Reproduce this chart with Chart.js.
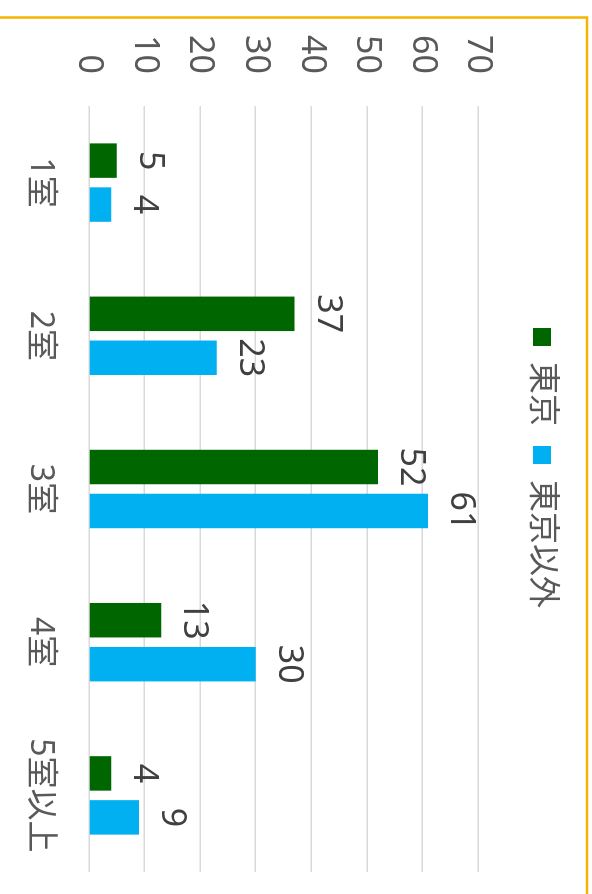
<!DOCTYPE html>
<html>
<head>
<meta charset="utf-8">
<script src="https://cdn.jsdelivr.net/npm/chart.js@4/dist/chart.umd.min.js"></script>
<style>
  html, body { margin: 0; padding: 0; background: #fff; }
  body { width: 592px; height: 894px; overflow: hidden; position: relative; }
  /* chart is drawn landscape and turned a quarter clockwise */
  #wrap {
    position: absolute; left: 0; top: 0;
    width: 894px; height: 592px;
    transform-origin: 0 0;
    transform: translateX(592px) rotate(90deg);
  }
</style>
</head>
<body>
<div id="wrap"><canvas id="myChart" width="894" height="592"></canvas></div>
<script>
const categories = ["1室", "2室", "3室", "4室", "5室以上"];
const seriesNames = ["東京", "東京以外"];
const tokyo = [5, 37, 52, 13, 4];
const outsideTokyo = [4, 23, 61, 30, 9];
const valueTicks = [0, 10, 20, 30, 40, 50, 60, 70];

const FONT = "'Noto Sans', 'Noto Sans CJK JP', sans-serif";

// white page + the orange frame of the original sheet
const framePlugin = {
    id: 'frame',
    beforeDraw(chart) {
        const ctx = chart.ctx;
        ctx.save();
        ctx.fillStyle = '#ffffff';
        ctx.fillRect(0, 0, chart.width, chart.height);
        ctx.strokeStyle = '#F4B400';
        ctx.lineWidth = 2.5;
        ctx.strokeRect(17.5, 5, 2000, 2000);
        ctx.restore();
    }
};

// value labels above each bar
const valueLabels = {
    id: 'valueLabels',
    afterDatasetsDraw(chart) {
        const ctx = chart.ctx;
        ctx.save();
        ctx.font = "34px " + FONT;
        ctx.fillStyle = '#404040';
        ctx.textAlign = 'center';
        ctx.textBaseline = 'alphabetic';
        chart.data.datasets.forEach((ds, i) => {
            chart.getDatasetMeta(i).data.forEach((bar, j) => {
                ctx.fillText(String(ds.data[j]), bar.x, bar.y - 23);
            });
        });
        ctx.restore();
    }
};

// keep the legend band tall enough so the plot starts where the original does,
// and let the value axis labels use the room left of the axis box
const layoutTweaks = {
    id: 'layoutTweaks',
    afterInit(chart) {
        const lg = chart.legend;
        if (!lg) return;
        const fit = lg.fit.bind(lg);
        lg.fit = function () { fit(); this.height = 100; };
    },
    afterLayout(chart) {
        chart.scales.y.left = 0;
    }
};

var ctx = document.getElementById('myChart').getContext('2d');
var myChart = new Chart(ctx, {
    type: 'bar',
    data: {
        labels: categories,
        datasets: [{
            label: seriesNames[0],
            data: tokyo,
            backgroundColor: '#006600'
        }, {
            label: seriesNames[1],
            data: outsideTokyo,
            backgroundColor: '#00B0F0'
        }]
    },
    options: {
        responsive: false,
        devicePixelRatio: 1,
        animation: false,
        layout: { padding: { left: 64, right: 22, top: 14, bottom: 0 } },
        datasets: {
            bar: { categoryPercentage: 0.574, barPercentage: 0.784 }
        },
        plugins: {
            legend: {
                position: 'top',
                labels: {
                    boxWidth: 18,
                    boxHeight: 18,
                    padding: 20,
                    color: '#595959',
                    font: { family: FONT, size: 32 }
                }
            },
            tooltip: { enabled: false }
        },
        scales: {
            x: {
                grid: { display: false },
                border: { display: false },
                ticks: {
                    color: '#595959',
                    padding: 22,
                    font: { family: FONT, size: 32 }
                },
                afterFit(scale) { scale.height = 89; }
            },
            y: {
                min: valueTicks[0],
                max: valueTicks[valueTicks.length - 1],
                ticks: {
                    stepSize: valueTicks[1] - valueTicks[0],
                    color: '#595959',
                    padding: 32,
                    font: { family: FONT, size: 34 }
                },
                grid: { color: '#d9d9d9', lineWidth: 1.5, drawTicks: false },
                border: { display: false },
                afterFit(scale) { scale.width = 42; }
            }
        }
    },
    plugins: [framePlugin, valueLabels, layoutTweaks]
});
</script>
</body>
</html>
